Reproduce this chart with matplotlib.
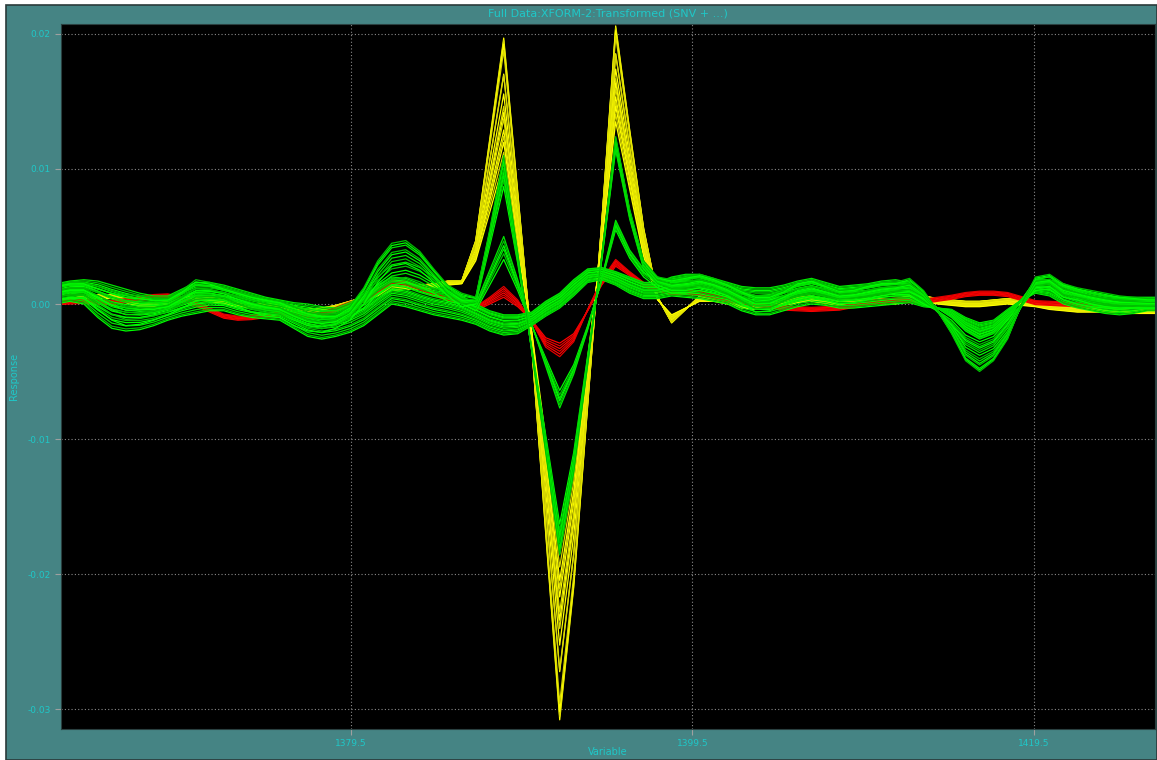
import numpy as np
import matplotlib.pyplot as plt
from matplotlib.patches import Rectangle

# variable axis (sample points of the transformed spectra)
variables = 1362.2 + 0.82 * np.arange(81)

# envelopes, in units of 1e-3
# each one = left part (29 pts) + band with the two peaks (16 pts) + right part (36 pts)
yellow_hi = ([0.2, 0.4, 0.6, 0.7, 0.7, 0.4, 0.1, 0.1, 0.3, 0.5, 0.6, 0.5, 0.3, 0.1, 0.0, 0.0, 0.1, -0.2, -0.4, -0.3,
              -0.1, 0.2, 0.5, 0.9, 1.3, 1.4, 1.4, 1.5, 1.7]
             + [1.7, 4.7, 12.2, 19.7, 8.3, -3.1, -17.0, -30.8, -21.0, -7.5, 6.0, 20.6, 12.9, 5.6, 0.5, -1.4]
             + [-0.4, 0.6, 0.6, 0.4, 0.1, 0.0, 0.1, 0.3, 0.5, 0.6, 0.4, 0.3, 0.3, 0.4, 0.4, 0.4, 0.6, 0.6, 0.4, 0.3,
                0.2, 0.2, 0.3, 0.4, 0.3, 0.2, 0.0, -0.1, -0.2, -0.2, -0.2, -0.2, -0.3, -0.3, -0.3, -0.3])
yellow_lo = ([-0.1, 0.1, 0.3, 0.4, 0.4, 0.1, -0.2, -0.2, 0.0, 0.2, 0.3, 0.2, 0.0, -0.2, -0.3, -0.3, -0.2, -0.5, -0.7,
              -0.6, -0.4, -0.1, 0.2, 0.6, 1.0, 1.1, 1.1, 1.2, 1.4]
             + [1.5, 3.2, 6.8, 10.5, 4.0, -2.0, -10.0, -18.5, -12.5, -4.0, 4.5, 13.5, 8.5, 3.5, 0.3, -0.8]
             + [-0.3, 0.2, 0.2, 0.0, -0.3, -0.4, -0.3, -0.1, 0.1, 0.2, 0.0, -0.1, -0.1, 0.0, 0.0, 0.0, 0.2, 0.2, 0.0,
                -0.1, -0.2, -0.2, -0.1, 0.0, -0.1, -0.2, -0.4, -0.5, -0.6, -0.6, -0.6, -0.6, -0.7, -0.7, -0.7, -0.7])

red_hi = ([0.25, 0.3, 0.35, 0.3, 0.25, 0.4, 0.55, 0.7, 0.75, 0.5, 0.15, -0.3, -0.75, -0.9, -0.85, -0.7, -0.55, -0.6,
           -0.75, -0.6, -0.25, 0.15, 0.45, 1.1, 1.75, 1.7, 1.35, 0.9, 0.55]
          + [0.4, -0.2, 0.5, 1.3, 0.3, -1.3, -3.2, -3.9, -2.8, -0.4, 1.8, 3.3, 2.4, 1.6, 1.2, 1.0]
          + [1.0, 0.95, 0.7, 0.45, 0.3, 0.15, 0.0, -0.15, -0.2, -0.25, -0.2, -0.15, 0.05, 0.25, 0.35, 0.45, 0.4, 0.35,
             0.5, 0.65, 0.85, 0.95, 0.95, 0.85, 0.55, 0.25, 0.2, 0.15, 0.1, 0.05, 0.0, -0.05, -0.05, -0.05, -0.05,
             -0.05])
red_lo = ([-0.05, 0.0, 0.05, 0.0, -0.05, 0.1, 0.25, 0.4, 0.45, 0.2, -0.15, -0.6, -1.05, -1.2, -1.15, -1.0, -0.85,
           -0.9, -1.05, -0.9, -0.55, -0.15, 0.15, 0.8, 1.45, 1.4, 1.05, 0.6, 0.25]
          + [0.1, -0.5, 0.0, 0.5, -0.2, -1.2, -2.5, -2.9, -2.2, -0.5, 1.4, 2.8, 2.1, 1.3, 0.9, 0.7]
          + [0.7, 0.65, 0.4, 0.15, 0.0, -0.15, -0.3, -0.45, -0.5, -0.55, -0.5, -0.45, -0.25, -0.05, 0.05, 0.15, 0.1,
             0.05, 0.2, 0.35, 0.55, 0.65, 0.65, 0.55, 0.25, -0.05, -0.1, -0.15, -0.2, -0.25, -0.3, -0.35, -0.35,
             -0.35, -0.35, -0.35])

green1_hi = ([1.4, 1.6, 1.6, 1.3, 1.0, 0.7, 0.6, 0.4, 0.4, 1.0, 1.8, 1.6, 1.2, 0.9, 0.6, 0.4, 0.2, -0.2, -0.6, -0.8,
              -0.8, -0.2, 1.2, 3.2, 4.5, 4.7, 3.9, 2.6, 1.4]
             + [0.8, 0.5, 5.5, 11.0, 3.8, -3.5, -11.0, -18.6, -12.5, -4.5, 3.5, 12.4, 7.0, 3.2, 2.0, 1.8]
             + [2.0, 2.2, 1.9, 1.5, 1.0, 0.6, 0.6, 1.0, 1.6, 1.8, 1.4, 1.0, 1.1, 1.4, 1.6, 1.6, 1.9, 1.0, -0.5, -2.2,
                -4.2, -5.0, -4.2, -2.6, 0.0, 2.0, 2.2, 1.5, 1.2, 1.0, 0.8, 0.6, 0.5, 0.4, 0.4, 0.4])
green1_lo = ([0.3, 0.5, 0.5, -0.4, -1.2, -1.6, -1.5, -1.2, -0.8, -0.3, 0.2, 0.3, 0.3, -0.2, -0.6, -0.9, -1.0, -1.6,
              -2.0, -2.1, -1.8, -1.2, 0.0, 1.6, 2.8, 3.0, 2.5, 1.6, 0.6]
             + [-0.2, 0.0, 4.3, 8.7, 3.0, -3.2, -9.7, -16.3, -11.0, -3.8, 3.2, 11.4, 6.3, 2.6, 1.4, 1.0]
             + [1.0, 1.2, 1.0, 0.6, 0.0, -0.6, -0.5, 0.0, 0.4, 0.6, 0.4, 0.2, 0.3, 0.4, 0.6, 0.8, 0.9, 0.4, -0.6, -1.6,
                -3.2, -3.8, -3.3, -2.0, -0.2, 1.2, 1.3, 0.5, 0.3, 0.0, -0.2, -0.3, -0.3, -0.3, -0.3, -0.3])

green2_hi = ([1.2, 1.4, 1.4, 1.1, 0.8, 0.6, 0.4, 0.3, 0.3, 0.8, 1.4, 1.3, 1.0, 0.8, 0.5, 0.2, 0.0, -0.2, -0.4, -0.5,
              -0.5, -0.1, 0.8, 2.0, 2.9, 3.1, 2.7, 2.0, 1.2]
             + [0.5, 0.0, 2.5, 5.0, 1.8, -1.5, -4.6, -7.7, -5.2, -1.9, 1.9, 6.2, 4.0, 2.6, 2.0, 1.6]
             + [1.8, 2.0, 1.7, 1.3, 0.9, 0.6, 0.7, 1.0, 1.3, 1.5, 1.3, 1.0, 1.0, 1.2, 1.4, 1.5, 1.5, 0.8, -0.5, -1.8,
                -3.0, -3.6, -3.1, -1.8, 0.0, 1.8, 2.0, 1.3, 1.0, 0.8, 0.6, 0.5, 0.4, 0.4, 0.4, 0.4])
green2_lo = ([0.3, 0.4, 0.4, -0.2, -0.8, -1.0, -1.0, -0.8, -0.6, -0.3, 0.0, 0.1, 0.0, -0.3, -0.6, -0.7, -0.8, -1.2,
              -1.6, -1.7, -1.5, -1.0, -0.3, 0.7, 1.4, 1.6, 1.3, 0.8, 0.2]
             + [0.0, -0.5, 1.4, 3.3, 1.0, -1.6, -4.0, -6.4, -4.5, -1.6, 1.7, 5.5, 3.4, 2.0, 1.2, 0.8]
             + [0.8, 1.0, 0.8, 0.5, 0.0, -0.4, -0.3, 0.0, 0.3, 0.5, 0.3, 0.0, 0.1, 0.3, 0.5, 0.6, 0.6, 0.0, -0.5, -1.2,
                -2.3, -2.8, -2.4, -1.2, 0.0, 1.0, 1.1, 0.3, 0.0, -0.2, -0.3, -0.4, -0.3, -0.3, -0.3, -0.3])

green3_hi = ([1.5, 1.7, 1.8, 1.7, 1.4, 1.1, 0.8, 0.6, 0.6, 1.1, 1.6, 1.6, 1.4, 1.1, 0.8, 0.5, 0.3, 0.1, 0.0, -0.2,
              -0.3, 0.1, 0.6, 1.4, 2.0, 1.9, 1.5, 1.2, 1.0]
             + [0.6, 0.0, -0.5, -0.8, -0.8, -0.6, 0.2, 0.8, 1.8, 2.6, 2.7, 2.4, 2.0, 1.6, 1.6, 2.0]
             + [2.2, 2.2, 1.9, 1.6, 1.3, 1.2, 1.2, 1.4, 1.7, 1.9, 1.6, 1.3, 1.4, 1.5, 1.7, 1.8, 1.6, 0.5, -0.3, -1.0,
                -2.0, -2.6, -2.2, -1.2, 0.3, 1.8, 1.8, 1.5, 1.1, 0.8, 0.6, 0.5, 0.5, 0.5, 0.5, 0.5])
green3_lo = ([0.0, 0.2, 0.0, -1.0, -1.8, -2.0, -1.9, -1.6, -1.2, -0.9, -0.7, -0.5, -0.5, -0.8, -1.0, -1.1, -1.2, -1.8,
              -2.4, -2.6, -2.4, -2.1, -1.6, -0.8, 0.0, -0.2, -0.5, -0.8, -1.0]
             + [-1.2, -1.5, -2.0, -2.3, -2.2, -1.6, -0.9, -0.3, 0.6, 1.6, 1.8, 1.4, 0.8, 0.4, 0.4, 0.6]
             + [0.5, 0.4, 0.2, 0.0, -0.5, -0.8, -0.8, -0.5, -0.2, 0.0, -0.1, -0.3, -0.3, -0.2, -0.1, 0.0, 0.1, -0.2,
                -0.3, -0.4, -1.0, -1.4, -1.2, -0.4, 0.3, 0.8, 0.6, 0.0, -0.3, -0.5, -0.7, -0.8, -0.7, -0.5, -0.5, -0.5])

# position of each sample between its group's low and high envelope
yellow_w = [1.0, 0.98, 0.95, 0.9, 0.71, 0.7, 0.55, 0.45, 0.4, 0.35, 0.26, 0.21, 0.16, 0.08, 0.0]
red_w = [0.0, 0.2, 0.4, 0.6, 0.8, 1.0]
green1_w = [0.0, 0.2, 0.35, 0.5, 0.6, 0.8, 0.9, 1.0]
green2_w = [0.0, 0.25, 0.45, 0.6, 0.8, 1.0]
green3_w = [0.0, 0.05, 0.12, 0.2, 0.25, 0.33, 0.4, 0.45, 0.5, 0.55, 0.6, 0.68, 0.72, 0.8, 0.85, 0.9, 0.95, 1.0]


def spectrum(lo, hi, w):
    lo = np.array(lo)
    hi = np.array(hi)
    return (lo + w * (hi - lo)) / 1000.0


teal = '#458484'
cyan = '#1fc8c8'
yellows = ['#ffff00', '#d8d800']
reds = ['#ff0000', '#e00000']
greens = ['#00ff00', '#00c000', '#00e600']

fig = plt.figure(figsize=(11.57, 7.60), dpi=100, facecolor='white')
frame = Rectangle((6 / 1157, 0), 1 - 6 / 1157, 755 / 760, transform=fig.transFigure,
                  facecolor=teal, edgecolor='#2a3a3a', lw=1.2, zorder=-10)
fig.patches.append(frame)

ax = fig.add_axes([61 / 1157, 31 / 760, 1094 / 1157, 705 / 760])
ax.set_facecolor('black')

for n, w in enumerate(yellow_w):
    ax.plot(variables, spectrum(yellow_lo, yellow_hi, w), color=yellows[n % 2], lw=0.9)
for n, w in enumerate(red_w):
    ax.plot(variables, spectrum(red_lo, red_hi, w), color=reds[n % 2], lw=0.9)
for n, w in enumerate(green3_w):
    ax.plot(variables, spectrum(green3_lo, green3_hi, w), color=greens[n % 3], lw=0.9)
for n, w in enumerate(green2_w):
    ax.plot(variables, spectrum(green2_lo, green2_hi, w), color=greens[n % 3], lw=0.9)
for n, w in enumerate(green1_w):
    ax.plot(variables, spectrum(green1_lo, green1_hi, w), color=greens[n % 3], lw=0.9)

ax.set_xlim(1362.5, 1426.6)
ax.set_ylim(-0.03148, 0.02074)
ax.set_xticks([1379.5, 1399.5, 1419.5])
ax.set_xticklabels(['1379.5', '1399.5', '1419.5'])
ax.set_yticks([0.02, 0.01, 0.0, -0.01, -0.02, -0.03])
ax.set_yticklabels(['0.02', '0.01', '0.00', '-0.01', '-0.02', '-0.03'])
ax.tick_params(colors='#a0a0a0', labelcolor=cyan, labelsize=6.5, length=4, width=0.8)
ax.grid(True, color='#8a8a8a', linestyle=(0, (1, 2)), lw=0.8)
for s in ax.spines.values():
    s.set_color('#2a4040')

fig.text(608 / 1157, 1 - 752 / 760, 'Variable', color=cyan, fontsize=7, ha='center', va='center')
fig.text(14 / 1157, 1 - 376 / 760, 'Response', color=cyan, fontsize=7, ha='center', va='center',
         rotation=90)
fig.text(608 / 1157, 1 - 13 / 760, 'Full Data:XFORM-2:Transformed (SNV + ...)', color=cyan,
         fontsize=8, ha='center', va='center')

fig.savefig('out.png', dpi=100, facecolor=fig.get_facecolor())
